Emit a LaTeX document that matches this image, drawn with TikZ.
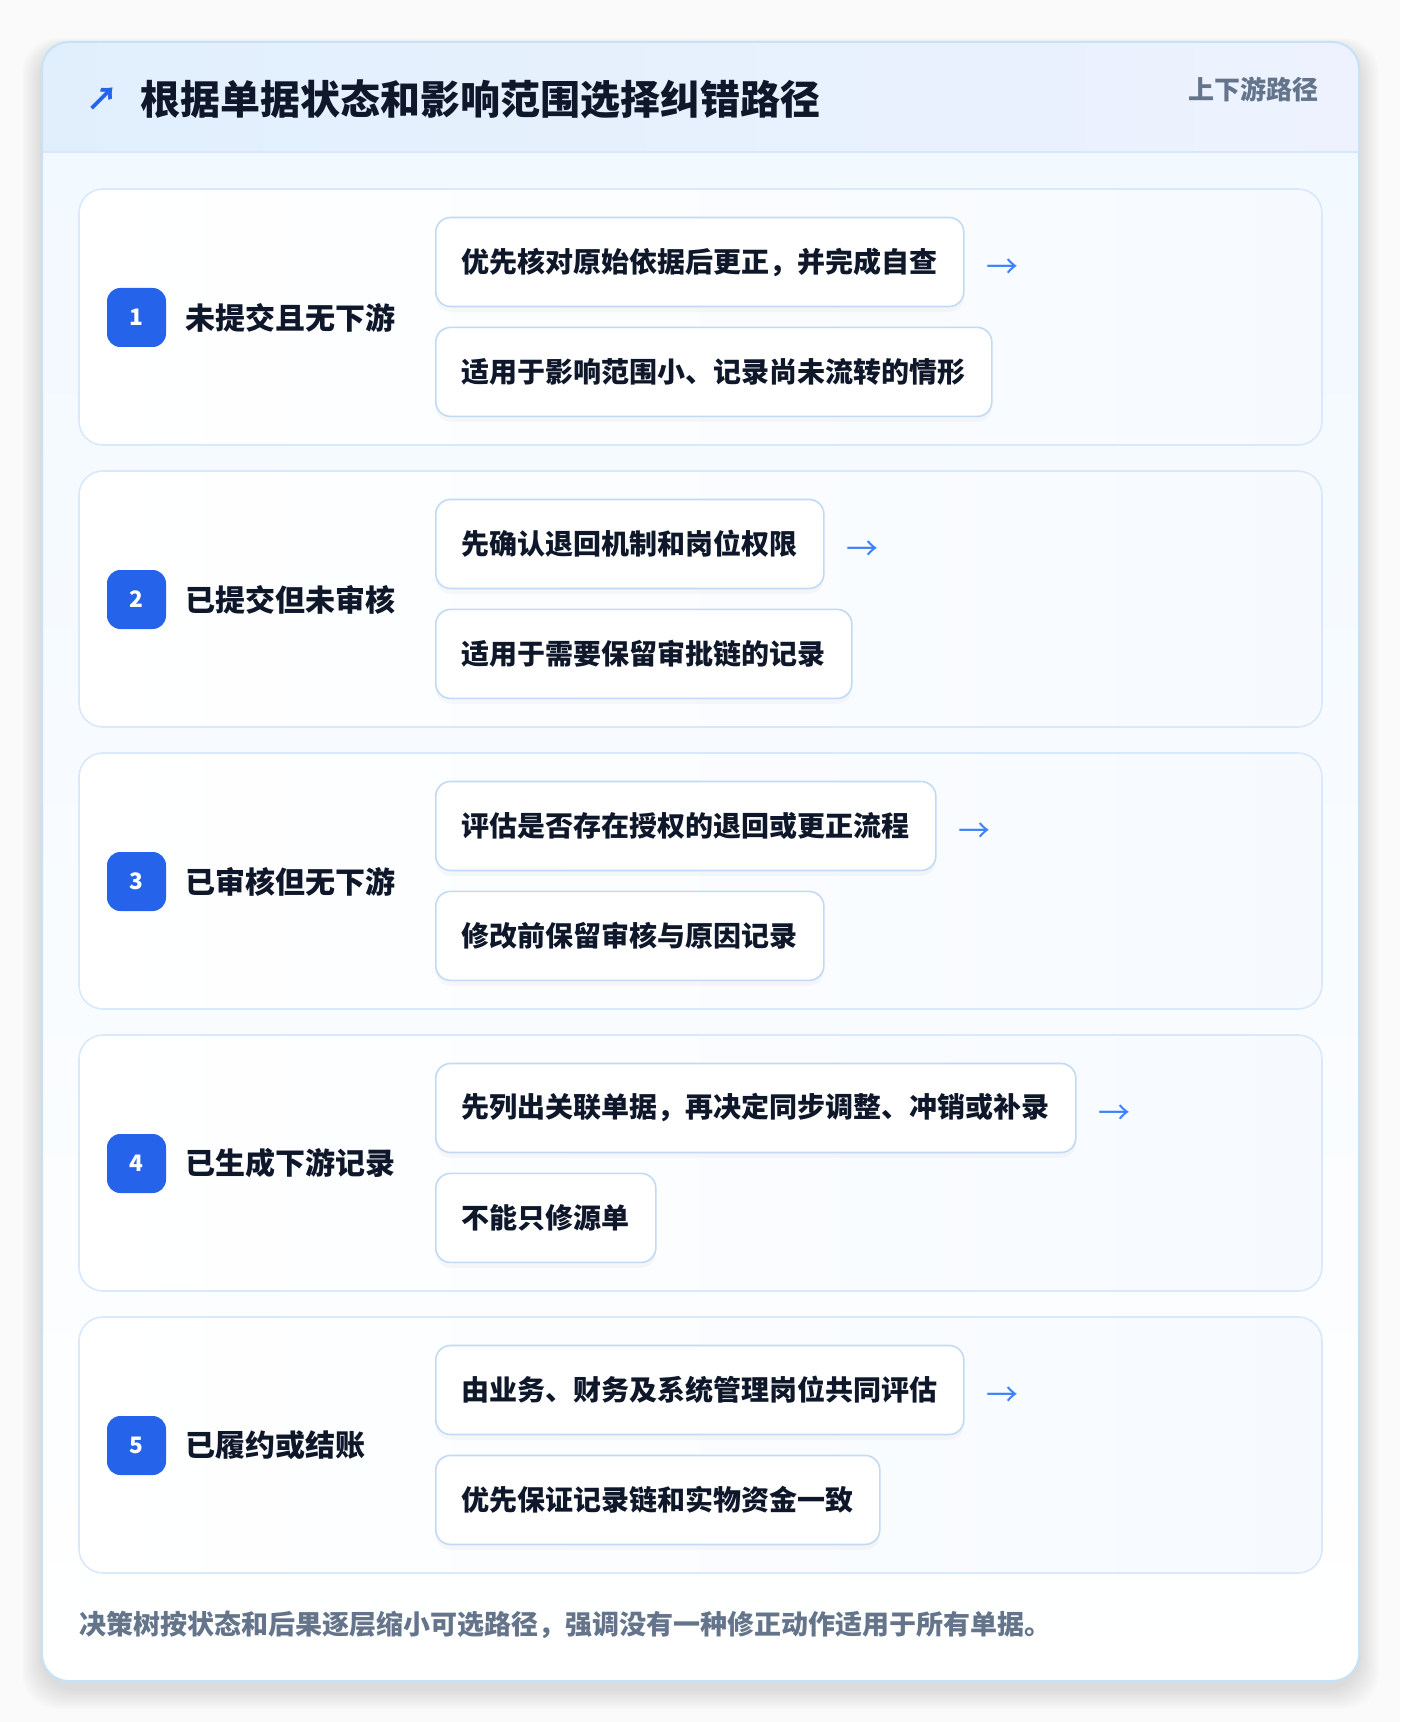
\documentclass[tikz,border=0pt]{standalone}
\usepackage{fontspec}
\setmainfont{Noto Sans CJK SC}
\usetikzlibrary{positioning,shadows}

\definecolor{pagebg}{HTML}{FAFAFB}
\definecolor{cardline}{HTML}{C6E2F6}
\definecolor{headleft}{HTML}{E1EFFD}
\definecolor{headright}{HTML}{EDF2FE}
\definecolor{headline}{HTML}{D6E8F9}
\definecolor{bodytop}{HTML}{F1F8FF}
\definecolor{rowline}{HTML}{D9E9FB}
\definecolor{rowright}{HTML}{F6FAFF}
\definecolor{boxline}{HTML}{C3DAF6}
\definecolor{inktext}{HTML}{0F172A}
\definecolor{mutetext}{HTML}{64748B}
\definecolor{badgeblue}{HTML}{2563EB}
\definecolor{arrowblue}{HTML}{3B82F6}

\tikzset{every picture/.style={line width=0.75pt}}
\tikzset{
  rowcard/.style={draw=rowline, line width=1.2pt, rounded corners=18pt, left color=white, right color=rowright},
  badge/.style={fill=badgeblue, rounded corners=10pt, minimum width=44.25pt, minimum height=44.25pt, inner sep=0pt, text=white, font=\bfseries\fontsize{17}{17}\selectfont},
  statelabel/.style={anchor=west, inner sep=0pt, text=inktext, font=\bfseries\fontsize{22.5}{22.5}\selectfont},
  pathbox/.style={draw=boxline, line width=1.2pt, fill=white, rounded corners=11pt, minimum height=66.75pt, inner xsep=19.5pt, inner ysep=0pt, text=inktext, font=\bfseries\fontsize{21}{21}\selectfont, drop shadow={shadow xshift=0pt, shadow yshift=-4pt, opacity=0.05}},
  nextarrow/.style={inner sep=0pt, text=arrowblue, font=\fontsize{24}{24}\selectfont}
}

\begin{document}
\begin{tikzpicture}[x=0.75pt,y=0.75pt,yscale=-1,xscale=1]
\useasboundingbox (0,0) rectangle (1400,1722);
\fill [pagebg] (0,0) rectangle (1400,1722);

%Card shadow
\foreach \k in {1,...,10}
  \fill [black, opacity=0.01, rounded corners=27pt] (42-2*\k,42+6-\k) rectangle (1359+2*\k,1681+8+2*\k);

%Outer card
\path [rounded corners=20pt, top color=bodytop, bottom color=white] (42,42) rectangle (1359,1681);
\begin{scope}
  \clip [rounded corners=20pt] (42,42) rectangle (1359,1681);
  \fill [left color=headleft, right color=headright] (42,42) rectangle (1359,152);
\end{scope}
\draw [headline, line width=1.2pt] (42,152) -- (1359,152);
\draw [cardline, line width=1.5pt, rounded corners=20pt] (42,42) rectangle (1359,1681);

%Header
\node (arrowtitle) [anchor=center, inner sep=0pt, text=badgeblue, font=\bfseries\fontsize{24}{24}\selectfont] at (102,99) {↗};
\node (title) [anchor=west, inner sep=0pt, text=inktext, font=\bfseries\fontsize{30}{30}\selectfont] at (140,99) {根据单据状态和影响范围选择纠错路径};
\node (side) [anchor=east, inner sep=0pt, text=mutetext, font=\bfseries\fontsize{19.5}{19.5}\selectfont] at (1319,89) {上下游路径};

%Row 1
\draw [rowcard] (79,189) rectangle (1322,445);
\node (badge1) [badge] at (136.5,317.5) {1};
\node (state1) [statelabel] at (184.5,317.5) {未提交且无下游};
\node (upper1) [pathbox, anchor=west] at (435,262) {优先核对原始依据后更正，并完成自查};
\node (lower1) [pathbox, below=14.5pt of upper1.south west, anchor=north west] {适用于影响范围小、记录尚未流转的情形};
\node (next1) [nextarrow, right=16pt of upper1.east, yshift=-5pt] {→};

%Row 2
\draw [rowcard] (79,471) rectangle (1322,727);
\node (badge2) [badge] at (136.5,599.5) {2};
\node (state2) [statelabel] at (184.5,599.5) {已提交但未审核};
\node (upper2) [pathbox, anchor=west] at (435,544) {先确认退回机制和岗位权限};
\node (lower2) [pathbox, below=14.5pt of upper2.south west, anchor=north west] {适用于需要保留审批链的记录};
\node (next2) [nextarrow, right=16pt of upper2.east, yshift=-5pt] {→};

%Row 3
\draw [rowcard] (79,753) rectangle (1322,1009);
\node (badge3) [badge] at (136.5,881.5) {3};
\node (state3) [statelabel] at (184.5,881.5) {已审核但无下游};
\node (upper3) [pathbox, anchor=west] at (435,826) {评估是否存在授权的退回或更正流程};
\node (lower3) [pathbox, below=14.5pt of upper3.south west, anchor=north west] {修改前保留审核与原因记录};
\node (next3) [nextarrow, right=16pt of upper3.east, yshift=-5pt] {→};

%Row 4
\draw [rowcard] (79,1035) rectangle (1322,1291);
\node (badge4) [badge] at (136.5,1163.5) {4};
\node (state4) [statelabel] at (184.5,1163.5) {已生成下游记录};
\node (upper4) [pathbox, anchor=west] at (435,1108) {先列出关联单据，再决定同步调整、冲销或补录};
\node (lower4) [pathbox, below=14.5pt of upper4.south west, anchor=north west] {不能只修源单};
\node (next4) [nextarrow, right=16pt of upper4.east, yshift=-5pt] {→};

%Row 5
\draw [rowcard] (79,1317) rectangle (1322,1573);
\node (badge5) [badge] at (136.5,1445.5) {5};
\node (state5) [statelabel] at (184.5,1445.5) {已履约或结账};
\node (upper5) [pathbox, anchor=west] at (435,1390) {由业务、财务及系统管理岗位共同评估};
\node (lower5) [pathbox, below=14.5pt of upper5.south west, anchor=north west] {优先保证记录链和实物资金一致};
\node (next5) [nextarrow, right=16pt of upper5.east, yshift=-5pt] {→};

%Footer
\node (note) [anchor=west, inner sep=0pt, text=mutetext, font=\bfseries\fontsize{20.25}{20.25}\selectfont] at (79,1625) {决策树按状态和后果逐层缩小可选路径，强调没有一种修正动作适用于所有单据。};
\end{tikzpicture}
\end{document}
